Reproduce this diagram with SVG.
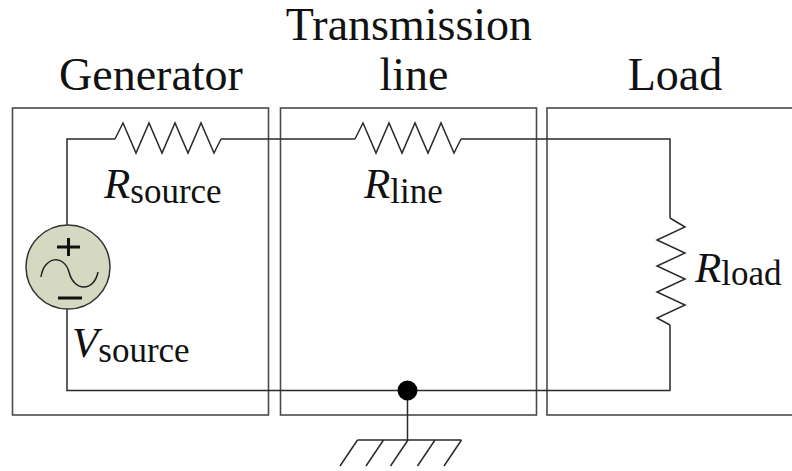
<svg xmlns="http://www.w3.org/2000/svg" width="792" height="471" viewBox="0 0 792 471">
<style>
.box{fill:none;stroke:#4a4a4a;stroke-width:1.6}
.w{fill:none;stroke:#2a2a2a;stroke-width:1.5;stroke-linejoin:miter}
.t{font-family:"Liberation Serif","Times New Roman",serif;fill:#111}
.title{font-size:46px;text-anchor:middle}
.R{font-size:43px;font-style:italic}
.sub{font-size:35px;font-style:normal}
</style>
<rect width="792" height="471" fill="#fff"/>
<g id="generator">
<rect class="box" x="12.5" y="108" width="256" height="307"/>
<text class="t title" x="151" y="90">Generator</text>
</g>
<g id="transmission-line">
<rect class="box" x="280.5" y="108" width="256" height="307"/>
<text class="t title" x="409" y="40">Transmission</text>
<text class="t title" x="414" y="90">line</text>
</g>
<g id="load">
<rect class="box" x="547" y="108" width="260" height="307"/>
<text class="t title" x="675" y="90">Load</text>
</g>
<g id="connectors">
<polyline class="w" points="67,225 67,139 115,139"/>
<polyline class="w" points="221,139 355,139"/>
<polyline class="w" points="461,139 670,139 670,218"/>
<polyline class="w" points="670,325 670,390.5 67,390.5 67,309"/>
<line class="w" x1="407.5" y1="390.5" x2="407.5" y2="440"/>
</g>
<g id="r-source">
<polyline class="w" points="115,139 123,123 136,153 149,123 162,153 175,123 188,153 201,123 214,153 221,139"/>
<text class="t R" x="104" y="198">R<tspan class="sub" dy="5">source</tspan></text>
</g>
<g id="r-line">
<polyline class="w" points="355,139 363,123 376,153 389,123 402,153 415,123 428,153 441,123 454,153 461,139"/>
<text class="t R" x="364" y="198">R<tspan class="sub" dy="5">line</tspan></text>
</g>
<g id="r-load">
<polyline class="w" points="670,218 685,227 657,240 685,253 657,266 685,279 657,292 685,305 657,318 670,325"/>
<text class="t R" x="695" y="282">R<tspan class="sub" dy="3">load</tspan></text>
</g>
<g id="v-source">
<circle cx="68" cy="267" r="42" fill="#d5d9c2" stroke="#333" stroke-width="1.5"/>
<path d="M57,247 H80 M68.5,238 V256 M58,298 H82" stroke="#111" stroke-width="3" fill="none"/>
<path d="M41,277 C44,256 64,254 69,272 C74,292 94,292 98,272" stroke="#222" stroke-width="1.5" fill="none"/>
<text class="t R" x="72" y="357">V<tspan class="sub" dy="5">source</tspan></text>
</g>
<g id="ground">
<circle cx="407.5" cy="390.5" r="10" fill="#000"/>
<path class="w" d="M357.5,440 H461.5 M357.5,440 L340,466 M383.5,440 L366,466 M408,440 L390.5,466 M435,440 L417.5,466 M461.5,440 L444,466"/>
</g>
</svg>
